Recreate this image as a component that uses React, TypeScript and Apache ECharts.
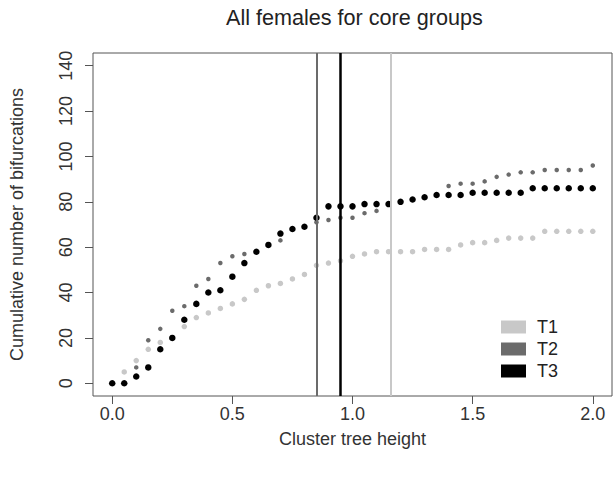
import React, { useEffect, useRef } from "react";
import * as echarts from "echarts";

// Cluster tree heights (x positions of the points)
const heights = [
  0.0, 0.05, 0.1, 0.15, 0.2, 0.25, 0.3, 0.35, 0.4, 0.45, 0.5, 0.55, 0.6, 0.65,
  0.7, 0.75, 0.8, 0.85, 0.9, 0.95, 1.0, 1.05, 1.1, 1.15, 1.2, 1.25, 1.3, 1.35,
  1.4, 1.45, 1.5, 1.55, 1.6, 1.65, 1.7, 1.75, 1.8, 1.85, 1.9, 1.95, 2.0,
];

// Cumulative number of bifurcations per group
const t1 = [
  0, 5, 10, 15, 18, 20, 25, 29, 31, 33, 35, 37, 41, 43, 44, 46, 48, 52, 53, 54,
  56, 57, 58, 58, 58, 58, 59, 59, 59, 61, 62, 62, 63, 64, 64, 64, 67, 67, 67, 67,
  67,
];
const t2 = [
  0, 0, 7, 19, 24, 32, 34, 43, 46, 53, 56, 57, 58, 61, 63, 68, 69, 71, 72, 73,
  73, 75, 76, 79, 80, 81, 82, 83, 87, 88, 88, 89, 91, 92, 93, 93, 94, 94, 94, 94,
  96,
];
const t3 = [
  0, 0, 3, 7, 15, 20, 28, 35, 40, 41, 47, 53, 58, 61, 66, 68, 69, 73, 78, 78,
  78, 79, 79, 79, 80, 81, 82, 83, 83, 83, 84, 84, 84, 84, 84, 86, 86, 86, 86, 86,
  86,
];

// Cut heights (vertical reference lines) per group
const groupNames = ["T1", "T2", "T3"];
const cutHeights = [1.155, 0.855, 0.952];

// Tick labels
const xTicks = [0, 0.5, 1.0, 1.5, 2.0];
const yTicks = [0, 20, 40, 60, 80, 100, 120, 140];

const groupColors = ["#c8c8c8", "#6b6b6b", "#000000"];
const groupSizes = [5.5, 4.5, 6.5];
const lineWidths = [2, 2, 2.5];

export default function App() {
  const ref = useRef<HTMLDivElement>(null);

  useEffect(() => {
    document.body.style.margin = "0";
    if (!ref.current) return;
    const chart = echarts.init(ref.current, null, { renderer: "svg" });
    const font = "'Liberation Sans', Arial, Helvetica, sans-serif";
    const seriesValues = [t1, t2, t3];

    const scatterSeries = groupNames.map((name, gi) => ({
      type: "scatter",
      name,
      data: heights.map((h, i) => [h, seriesValues[gi][i]]),
      symbol: "circle",
      symbolSize: groupSizes[gi],
      itemStyle: { color: groupColors[gi], opacity: 1 },
      z: 2 + gi,
      silent: true,
      emphasis: { disabled: true },
    }));

    const option = {
      animation: false,
      backgroundColor: "#ffffff",
      textStyle: { fontFamily: font },
      title: {
        text: "All females for core groups",
        left: 226,
        top: 6,
        padding: 0,
        textStyle: {
          fontFamily: font,
          fontSize: 21.6,
          fontWeight: "normal",
          color: "#222",
        },
      },
      legend: {
        orient: "vertical",
        left: 501,
        top: 318,
        padding: 0,
        itemWidth: 25,
        itemHeight: 13,
        itemGap: 4,
        icon: "rect",
        selectedMode: false,
        data: groupNames,
        textStyle: {
          fontFamily: font,
          fontSize: 18,
          color: "#222",
          lineHeight: 13,
          padding: [0, 0, 0, 6],
        },
      },
      grid: {
        left: 93,
        right: 3,
        top: 53,
        bottom: 88,
        show: true,
        borderColor: "#555",
        borderWidth: 1,
        backgroundColor: "transparent",
      },
      xAxis: {
        type: "value",
        min: -0.08,
        max: 2.08,
        name: "Cluster tree height",
        nameLocation: "middle",
        nameGap: 34,
        nameTextStyle: { fontFamily: font, fontSize: 18, color: "#333" },
        axisLine: { show: false, onZero: false },
        axisTick: {
          show: true,
          inside: false,
          length: 8,
          customValues: xTicks,
          lineStyle: { color: "#555", width: 1 },
        },
        axisLabel: {
          customValues: xTicks,
          formatter: (v: number) => v.toFixed(1),
          fontFamily: font,
          fontSize: 18,
          color: "#333",
          margin: 9,
        },
        splitLine: { show: false },
      },
      yAxis: {
        type: "value",
        min: -5.6,
        max: 145.6,
        name: "Cumulative number of bifurcations",
        nameLocation: "middle",
        nameRotate: 90,
        nameGap: 67,
        nameTextStyle: { fontFamily: font, fontSize: 18, color: "#333" },
        axisLine: { show: false, onZero: false },
        axisTick: {
          show: true,
          inside: false,
          length: 8,
          customValues: yTicks,
          lineStyle: { color: "#555", width: 1 },
        },
        axisLabel: {
          customValues: yTicks,
          rotate: 90,
          fontFamily: font,
          fontSize: 18,
          color: "#333",
          margin: 18,
        },
        splitLine: { show: false },
      },
      series: [
        ...scatterSeries,
        {
          type: "scatter",
          name: "cuts",
          data: [],
          z: 10,
          silent: true,
          markLine: {
            silent: true,
            symbol: ["none", "none"],
            label: { show: false },
            emphasis: { disabled: true },
            data: groupNames.map((_, gi) => ({
              xAxis: cutHeights[gi],
              lineStyle: {
                color: groupColors[gi],
                width: lineWidths[gi],
                type: "solid",
              },
            })),
          },
        },
      ],
    };

    chart.setOption(option as any);
    return () => chart.dispose();
  }, []);

  return <div ref={ref} style={{ width: 615, height: 484 }} />;
}
